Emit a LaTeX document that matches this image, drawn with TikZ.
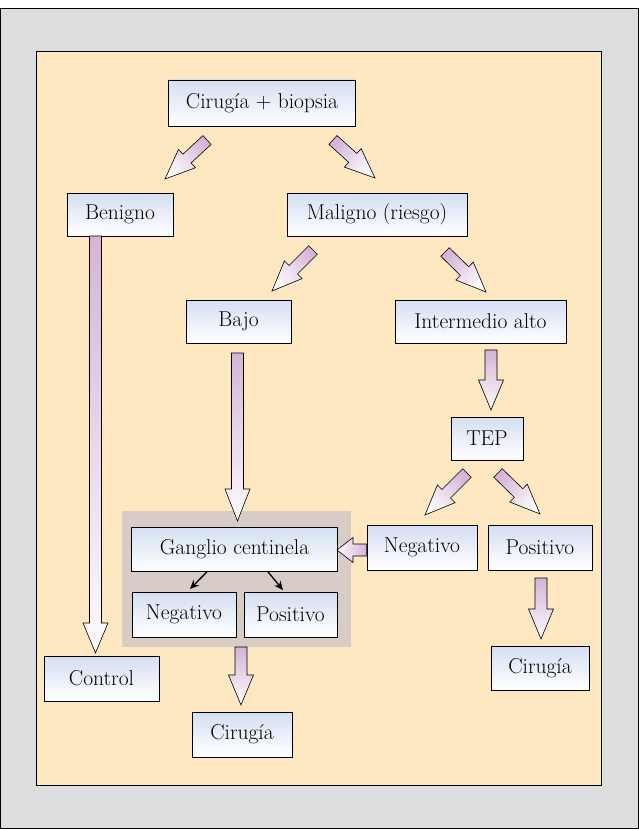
\documentclass[tikz,border=0pt]{standalone}
\usepackage{fontspec}
\usetikzlibrary{calc,arrows.meta}
\definecolor{framegray}{RGB}{220,221,223}
\definecolor{cream}{RGB}{254,232,194}
\definecolor{groupgray}{RGB}{216,205,198}
\definecolor{boxblue}{RGB}{212,223,243}
\definecolor{mauve}{RGB}{212,180,215}
\tikzset{
  box/.style={draw=black, line width=0.6pt, top color=boxblue, bottom color=white,
    inner sep=0pt, font=\fontsize{21.5}{24}\selectfont},
  barrow/.style={draw=black, line width=0.6pt, line join=miter},
  thinarrow/.style={draw=black, line width=1.3pt, -{Stealth[length=9pt,width=8pt]}},
}
\newcommand\blockarrow[3][30]{%
  \path let \p1=($(#3)-(#2)$) in
    \pgfextra{\pgfmathsetmacro\baA{atan2(\y1,\x1)}\pgfmathsetmacro\baB{veclen(\x1,\y1)}%
      \xdef\baang{\baA}\xdef\balen{\baB}};
  \pgfmathsetmacro\bashade{\baang+90}%
  \pgfmathsetmacro\bahead{\balen-#1}%
  \shadedraw[barrow, top color=mauve, bottom color=white!95!mauve, shading angle=\bashade,
     shift={(#2)}, rotate=\baang]
    (0pt,-6pt) -- (\bahead pt,-6pt) -- (\bahead pt,-12.5pt) -- (\balen pt,0pt)
    -- (\bahead pt,12.5pt) -- (\bahead pt,6pt) -- (0pt,6pt) -- cycle;
}
\begin{document}
\begin{tikzpicture}[x=1pt,y=-1pt]
\useasboundingbox (0,0) rectangle (639,829);
\fill[white] (0,0) rectangle (639,829);
\draw[fill=framegray, line width=0.8pt] (0.5,8.5) rectangle (638,828.3);
\draw[fill=cream, line width=0.6pt] (36,51) rectangle (601,785);
\fill[groupgray] (122,511) rectangle (351,647);

\node[box, minimum width=187pt, minimum height=46pt] (cb) at (262,103) {Cirugía + biopsia};
\node[box, minimum width=106pt, minimum height=43pt] (ben) at (120,214.5) {Benigno};
\node[box, minimum width=180pt, minimum height=43pt] (mal) at (377,214.5) {Maligno (riesgo)};
\node[box, minimum width=105pt, minimum height=43pt] (bajo) at (238.5,321.5) {Bajo};
\node[box, minimum width=171pt, minimum height=43pt] (inter) at (480.5,321.5) {Intermedio alto};
\node[box, minimum width=72pt, minimum height=43pt] (tep) at (487,438.5) {TEP};
\node[box, minimum width=110pt, minimum height=45pt] (negR) at (422,547.5) {Negativo};
\node[box, minimum width=104pt, minimum height=45pt] (posR) at (540,547.5) {Positivo};
\node[box, minimum width=98pt, minimum height=44pt] (cirR) at (540,668) {Cirugía};
\node[box, minimum width=206pt, minimum height=44pt] (gang) at (234.5,549) {Ganglio centinela};
\node[box, minimum width=104pt, minimum height=45pt] (negL) at (184,614.5) {Negativo};
\node[box, minimum width=93pt, minimum height=45pt] (posL) at (290.5,614.5) {Positivo};
\node[box, minimum width=115pt, minimum height=45pt] (ctrl) at (101.5,678.5) {Control};
\node[box, minimum width=100pt, minimum height=45pt] (cirB) at (242,734.5) {Cirugía};

% block arrow end points
\coordinate (a1s) at (207,140);   \coordinate (a1e) at (165,179);
\coordinate (a2s) at (333,140);   \coordinate (a2e) at (375,178);
\coordinate (a3s) at (95.5,236);  \coordinate (a3e) at (95.5,653);
\coordinate (a4s) at (313,250);   \coordinate (a4e) at (272,291);
\coordinate (a5s) at (445,252);   \coordinate (a5e) at (486,292);
\coordinate (a6s) at (237.5,353); \coordinate (a6e) at (237.5,521);
\coordinate (a7s) at (491,350);   \coordinate (a7e) at (491,410);
\coordinate (a8s) at (467,473);   \coordinate (a8e) at (425,515);
\coordinate (a9s) at (498,473);   \coordinate (a9e) at (540,514);
\coordinate (a10s) at ($(negR.west)+(0,2.5)$); \coordinate (a10e) at (337,550);
\coordinate (a11s) at (541,578);  \coordinate (a11e) at (541,639);
\coordinate (a12s) at (241,647);  \coordinate (a12e) at (241,705);

\blockarrow{a1s}{a1e}
\blockarrow{a2s}{a2e}
\blockarrow{a3s}{a3e}
\blockarrow{a4s}{a4e}
\blockarrow{a5s}{a5e}
\blockarrow[32]{a6s}{a6e}
\blockarrow{a7s}{a7e}
\blockarrow{a8s}{a8e}
\blockarrow{a9s}{a9e}
\blockarrow[16]{a10s}{a10e}
\blockarrow{a11s}{a11e}
\blockarrow{a12s}{a12e}

\coordinate (g1) at ($(gang.south)+(-27,0)$);
\coordinate (g2) at ($(gang.south)+(33,0)$);
\coordinate (n1) at (190,589);
\coordinate (p1) at (283,590);
\draw[thinarrow] (g1) -- (n1);
\draw[thinarrow] (g2) -- (p1);
\end{tikzpicture}
\end{document}
